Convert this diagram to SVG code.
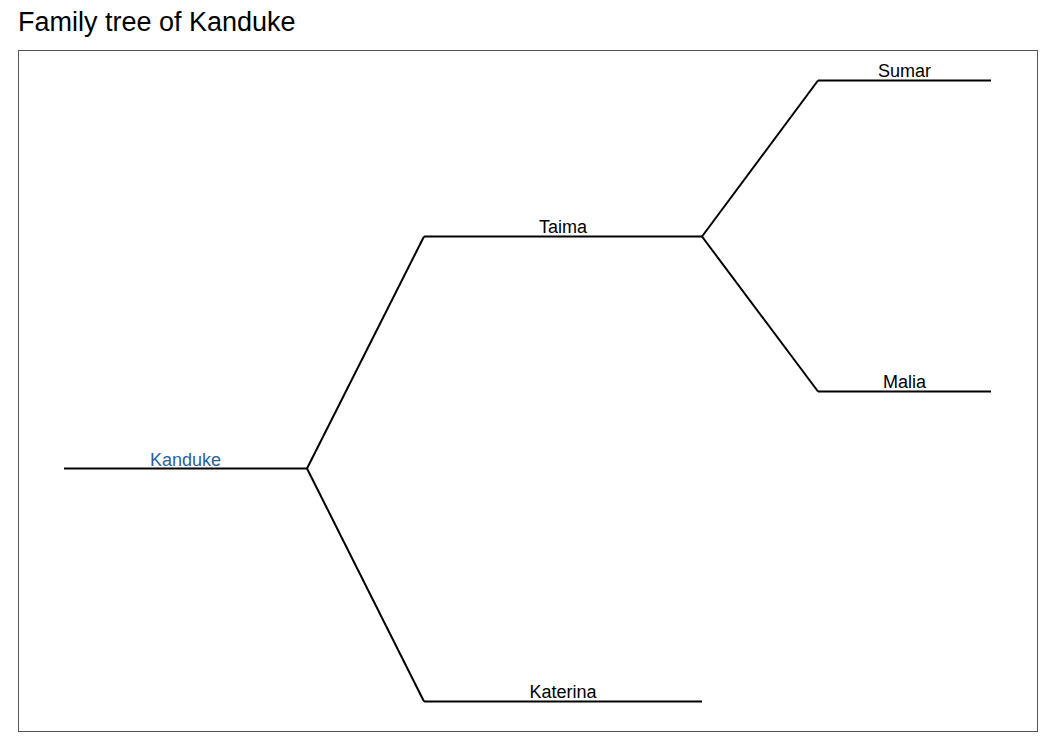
<svg xmlns="http://www.w3.org/2000/svg" width="1050" height="750" viewBox="0 0 1050 750">
<style>
.edge{stroke:#000;stroke-width:2;fill:none;stroke-linecap:butt}
.lbl{font-family:"Liberation Sans",Arial,sans-serif;font-size:18px;text-anchor:middle;fill:#000}
</style>
<rect width="1050" height="750" fill="#fff"/>
<text x="18" y="31" font-family="Liberation Sans,Arial,sans-serif" font-size="27" fill="#000">Family tree of Kanduke</text>
<rect x="18.5" y="50.5" width="1019" height="681" fill="none" stroke="#555" stroke-width="1"/>
<g id="connectors">
<path class="edge" d="M307,468.5 L424,236.5"/>
<path class="edge" d="M307,468.5 L424,701.5"/>
<path class="edge" d="M702,236.5 L818,80.5"/>
<path class="edge" d="M702,236.5 L818,391.5"/>
</g>
<g id="node-kanduke"><line class="edge" x1="64" y1="468.5" x2="307" y2="468.5"/><text class="lbl" x="185.5" y="466" style="fill:#2b5fa0">Kanduke</text></g>
<g id="node-taima"><line class="edge" x1="424" y1="236.5" x2="702" y2="236.5"/><text class="lbl" x="563" y="233">Taima</text></g>
<g id="node-katerina"><line class="edge" x1="424" y1="701.5" x2="702" y2="701.5"/><text class="lbl" x="563" y="698">Katerina</text></g>
<g id="node-sumar"><line class="edge" x1="818" y1="80.5" x2="991" y2="80.5"/><text class="lbl" x="904.5" y="77">Sumar</text></g>
<g id="node-malia"><line class="edge" x1="818" y1="391.5" x2="991" y2="391.5"/><text class="lbl" x="904.5" y="388">Malia</text></g>
</svg>
